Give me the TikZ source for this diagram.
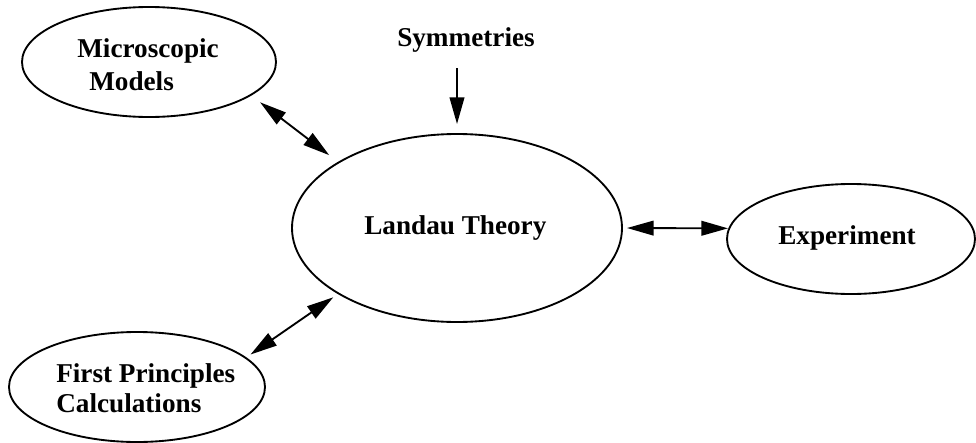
\documentclass[tikz,border=0pt]{standalone}
\usepackage{fontspec}
\setmainfont{Liberation Serif}
\usetikzlibrary{arrows.meta,shapes.geometric}
\tikzset{
  bub/.style={ellipse,draw,line width=1.4pt,inner sep=0pt,outer sep=0pt},
  lbl/.style={inner sep=0pt,anchor=base west,font=\fontsize{20.4}{24}\selectfont\bfseries},
  tip/.tip={Triangle[length=20pt,width=11pt]},
  link/.style={line width=1.4pt,tip-tip},
  feed/.style={line width=1.4pt,-tip}
}
\begin{document}
\begin{tikzpicture}[x=0.75pt,y=-0.75pt]
\useasboundingbox (0,0) rectangle (976,443);
% ellipses
\node[bub,minimum width=190.5pt,minimum height=82.5pt] (micro) at (149,62) {};
\node[bub,minimum width=247.5pt,minimum height=141pt] (landau) at (457,228) {};
\node[bub,minimum width=186pt,minimum height=82.5pt] (exp) at (851,239) {};
\node[bub,minimum width=192pt,minimum height=82.5pt] (fp) at (137,387) {};
% texts
\node[lbl] (microA) at (77,57) {Microscopic};
\node[lbl] (microB) at (89,90) {Models};
\node[lbl] (landauT) at (364,234) {Landau Theory};
\node[lbl] (expT) at (778,244) {Experiment};
\node[lbl] (fpA) at (56,382) {First Principles};
\node[lbl] (fpB) at (56,412) {Calculations};
\node[lbl] (sym) at (397,46) {Symmetries};
% connectors
\draw[link,shorten <=9pt,shorten >=9pt] (micro.-18) -- (landau.151);
\draw[link,shorten <=4.5pt,shorten >=5pt] (fp.15) -- (landau.209);
\draw[link,shorten <=3.75pt,shorten >=1pt] (landau.0) -- (exp.175);
\draw[feed,shorten <=12pt,shorten >=7.5pt] (landau.north |- sym.south) -- (landau.north);
\end{tikzpicture}
\end{document}
